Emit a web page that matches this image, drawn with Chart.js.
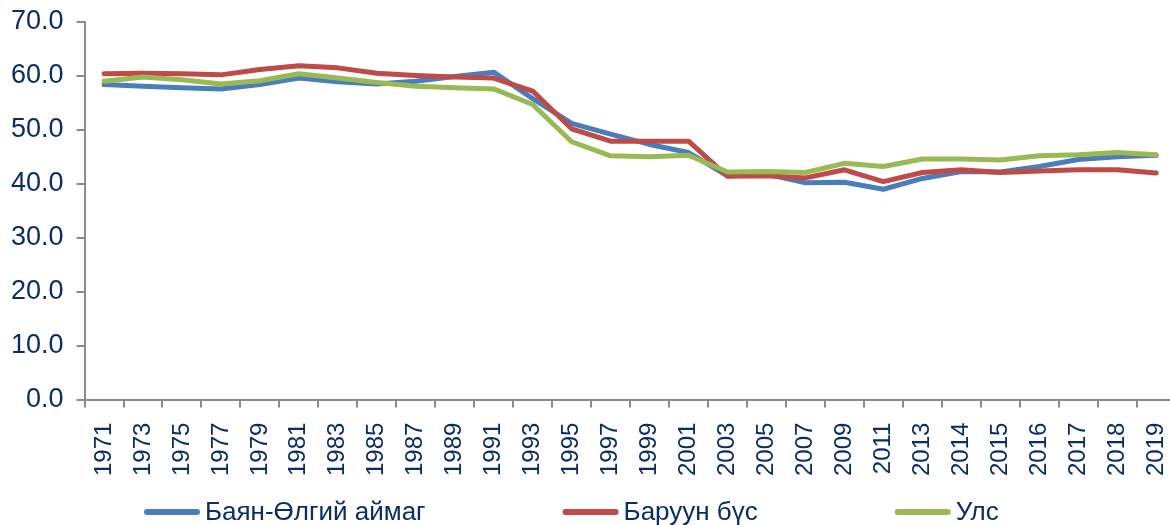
<!DOCTYPE html>
<html>
<head>
<meta charset="utf-8">
<script src="https://cdn.jsdelivr.net/npm/chart.js@4"></script>
<style>
  html, body { margin: 0; padding: 0; background: #fff; overflow: hidden; }
  #wrap { width: 1200px; height: 525px; position: relative; }
</style>
</head>
<body>
<div id="wrap"><canvas id="chart"></canvas></div>
<script>
const years = ['1971', '1973', '1975', '1977', '1979', '1981', '1983', '1985', '1987', '1989',
  '1991', '1993', '1995', '1997', '1999', '2001', '2003', '2005', '2007', '2009',
  '2011', '2013', '2014', '2015', '2016', '2017', '2018', '2019'];

const bayanUlgii = [58.4, 58.1, 57.8, 57.6, 58.4, 59.6, 58.9, 58.5, 59.0, 59.9,
  60.7, 55.8, 51.2, 49.2, 47.3, 45.8, 41.5, 41.8, 40.2, 40.3,
  39.0, 41.0, 42.3, 42.2, 43.2, 44.5, 45.0, 45.3];

const westRegion = [60.4, 60.5, 60.4, 60.2, 61.2, 61.9, 61.5, 60.5, 60.1, 59.8,
  59.6, 57.2, 50.2, 47.9, 47.9, 47.9, 41.4, 41.5, 41.1, 42.6,
  40.4, 42.1, 42.6, 42.1, 42.4, 42.6, 42.6, 42.0];

const country = [59.0, 59.8, 59.3, 58.5, 59.1, 60.4, 59.6, 58.8, 58.1, 57.8,
  57.6, 54.7, 47.8, 45.2, 45.0, 45.3, 42.2, 42.3, 42.1, 43.8,
  43.2, 44.6, 44.6, 44.4, 45.2, 45.4, 45.8, 45.4];

const seriesNames = ['Баян-Өлгий аймаг', 'Баруун бүс', 'Улс'];

const textColor = '#0b2c64';
const axisColor = '#8c8c8c';
const fontFamily = '"Liberation Sans", Arial, sans-serif';

// legend drawn by hand so the wide Excel-style spacing can be kept
const bottomLegend = {
  id: 'bottomLegend',
  afterDraw(chart) {
    const ctx = chart.ctx;
    const swatch = 56, textGap = 5, spacing = 137;
    ctx.save();
    ctx.font = '26px ' + fontFamily;
    let x = 144;
    const y = 512;
    chart.data.datasets.forEach(ds => {
      const w = ctx.measureText(ds.label).width;
      ctx.strokeStyle = ds.borderColor;
      ctx.lineWidth = 6;
      ctx.lineCap = 'round';
      ctx.beginPath();
      ctx.moveTo(x + 3, y);
      ctx.lineTo(x + swatch - 3, y);
      ctx.stroke();
      ctx.fillStyle = textColor;
      ctx.textBaseline = 'middle';
      ctx.textAlign = 'left';
      ctx.fillText(ds.label, x + swatch + textGap, y + 1);
      x += swatch + textGap + w + spacing;
    });
    ctx.restore();
  }
};

function lineSet(label, data, color, order) {
  return {
    label: label,
    data: data,
    borderColor: color,
    backgroundColor: color,
    borderWidth: 5,
    pointRadius: 0,
    pointHoverRadius: 0,
    tension: 0,
    borderJoinStyle: 'round',
    borderCapStyle: 'round',
    order: order
  };
}

new Chart(document.getElementById('chart'), {
  type: 'line',
  data: {
    labels: years,
    datasets: [
      lineSet(seriesNames[0], bayanUlgii, '#4a7ebb', 2),
      lineSet(seriesNames[1], westRegion, '#be4b48', 1),
      lineSet(seriesNames[2], country, '#98b954', 0)
    ]
  },
  options: {
    responsive: true,
    maintainAspectRatio: false,
    animation: false,
    layout: { padding: { left: -2, right: 2, top: 22, bottom: 34 } },
    plugins: {
      legend: { display: false },
      tooltip: { enabled: false }
    },
    scales: {
      x: {
        offset: true,
        grid: { drawOnChartArea: false, offset: true, color: axisColor, lineWidth: 2, tickLength: 8 },
        border: { color: axisColor, width: 2 },
        ticks: {
          color: textColor,
          font: { family: fontFamily, size: 24 },
          maxRotation: 90,
          minRotation: 90,
          autoSkip: false,
          padding: 15
        }
      },
      y: {
        min: 0,
        max: 70,
        grid: { drawOnChartArea: false, color: axisColor, lineWidth: 2, tickLength: 8 },
        border: { color: axisColor, width: 2 },
        afterFit: scale => { scale.paddingTop = 0; },
        ticks: {
          stepSize: 10,
          color: textColor,
          font: { family: fontFamily, size: 27 },
          padding: 13,
          callback: v => Number(v).toFixed(1)
        }
      }
    }
  },
  plugins: [bottomLegend]
});
</script>
</body>
</html>
